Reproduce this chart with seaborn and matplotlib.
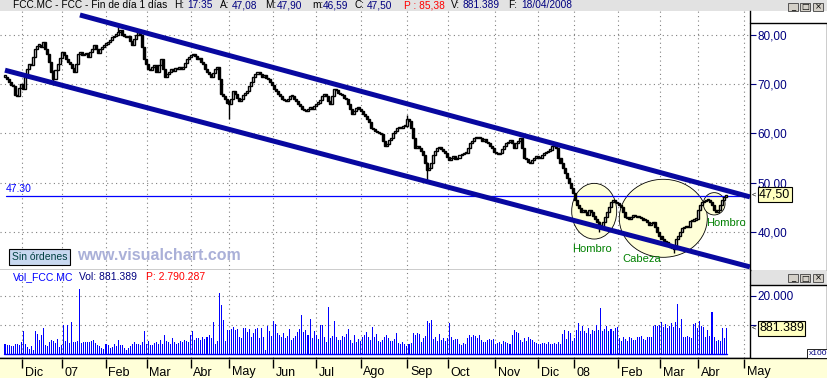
import matplotlib
matplotlib.use("Agg")
import matplotlib.pyplot as plt
from matplotlib.patches import Ellipse, Rectangle
from matplotlib.lines import Line2D
import numpy as np
import pandas as pd
import seaborn as sns

# ---------------- data ----------------
close = [
71.5, 71.0, 70.5, 69.8, 69.5, 67.8, 67.5, 69.2, 70.0, 69.0,
71.5, 73.0, 74.0, 73.8, 75.5, 77.0, 77.8, 78.0, 77.5, 78.5,
77.2, 76.0, 74.5, 72.5, 71.0, 72.8, 74.0, 75.2, 76.5, 75.8,
75.0, 74.5, 74.0, 73.2, 72.5, 74.0, 76.0, 76.5, 75.8, 76.0,
76.3, 75.5, 76.5, 77.2, 78.0, 77.0, 76.3, 77.0, 77.5, 78.0,
78.2, 78.6, 79.0, 79.5, 79.8, 80.0, 80.5, 81.0, 80.0, 79.8,
79.5, 79.8, 78.8, 78.0, 79.2, 80.0, 80.5, 80.0, 77.5, 75.0,
74.0, 73.0, 72.8, 73.5, 73.8, 72.5, 73.8, 75.0, 73.0, 71.5,
72.0, 72.5, 73.0, 72.6, 73.2, 73.0, 73.5, 73.0, 73.5, 74.2,
75.0, 75.5, 75.8, 76.0, 75.6, 75.0, 75.2, 74.5, 74.0, 73.0,
72.5, 72.0, 71.5, 72.2, 73.0, 73.5, 71.0, 68.0, 67.5, 67.0,
66.2, 66.0, 67.0, 68.5, 68.0, 67.2, 66.5, 67.0, 67.8, 68.2,
68.5, 69.5, 70.5, 71.5, 72.0, 72.5, 72.0, 71.5, 71.8, 71.2,
71.0, 70.5, 69.8, 69.0, 68.5, 68.0, 67.5, 67.0, 66.8, 66.5,
67.0, 67.5, 67.5, 67.0, 66.5, 66.0, 65.5, 65.0, 64.7, 64.5,
65.0, 65.2, 65.0, 65.5, 66.0, 66.2, 66.7, 67.5, 68.0, 67.5,
66.5, 66.0, 67.5, 69.0, 68.8, 68.2, 68.0, 67.8, 67.2, 67.0,
66.0, 65.0, 64.0, 64.5, 65.2, 65.0, 64.5, 64.0, 63.5, 63.0,
62.2, 61.0, 60.8, 60.5, 60.2, 60.0, 59.8, 58.5, 57.5, 57.8,
58.6, 59.0, 60.0, 60.5, 61.0, 61.3, 61.0, 61.5, 61.5, 63.0,
62.5, 61.0, 59.0, 57.0, 57.5, 57.0, 56.5, 55.5, 54.0, 52.5,
53.0, 54.0, 55.5, 56.5, 57.0, 57.2, 56.8, 56.5, 56.0, 55.2,
54.6, 55.0, 55.3, 54.8, 55.0, 55.5, 55.8, 56.0, 56.0, 57.0,
58.0, 58.5, 59.0, 59.3, 59.0, 59.0, 58.5, 58.8, 58.2, 58.0,
57.5, 57.0, 56.2, 56.0, 55.8, 56.0, 56.8, 57.5, 58.0, 58.3,
58.6, 58.0, 57.0, 58.0, 58.5, 59.0, 57.0, 55.0, 54.8, 54.2,
54.0, 54.5, 55.0, 55.3, 55.0, 55.0, 55.5, 56.0, 56.2, 56.5,
56.7, 57.5, 58.0, 57.0, 55.0, 54.0, 53.0, 52.0, 51.0, 50.0,
49.0, 47.8, 46.5, 45.5, 44.8, 44.0, 44.5, 44.0, 43.5, 44.5,
44.0, 43.2, 42.7, 42.0, 41.5, 41.0, 42.0, 43.0, 44.0, 45.0,
46.0, 46.4, 46.0, 45.8, 45.5, 45.0, 44.0, 43.0, 42.8, 42.7,
43.0, 43.5, 43.2, 43.0, 43.0, 42.8, 42.5, 42.4, 42.0, 41.5,
41.8, 42.0, 41.0, 40.0, 39.2, 38.5, 38.2, 38.0, 37.5, 37.0,
36.8, 36.5, 38.5, 39.2, 40.0, 40.8, 41.0, 41.2, 41.0, 42.2,
42.3, 42.5, 42.6, 44.4, 45.5, 46.0, 46.2, 46.5, 46.5, 46.0,
45.5, 44.5, 44.0, 44.5, 45.5, 46.4, 47.1, 47.5]

# daily volume, in units of 100 shares
volume = [
3500, 3000, 3200, 2800, 2600, 3600, 3300, 3000, 4000, 8000,
3500, 2500, 1800, 2800, 1500, 7800, 7000, 5000, 6500, 9000,
3000, 2600, 4200, 4800, 4500, 3800, 5200, 2400, 3200, 10100,
4500, 10100, 3800, 11000, 4000, 4200, 4500, 22500, 3800, 4200,
4000, 4200, 4200, 4500, 4800, 3800, 3000, 2800, 2200, 1600,
3400, 3200, 2000, 2400, 3500, 2800, 5000, 3000, 3000, 2000,
1500, 2000, 2600, 3300, 4000, 3300, 3500, 3000, 4300, 8000,
3600, 4600, 3200, 3000, 3800, 4300, 3400, 4800, 3500, 6700,
4500, 4000, 3300, 5500, 4000, 3500, 3800, 4500, 4200, 4700,
4500, 4000, 6700, 8000, 5000, 5600, 5500, 5000, 6000, 5200,
6000, 6400, 5500, 11000, 3500, 4400, 21000, 17000, 11800, 4400,
8200, 8300, 8600, 9200, 8200, 8600, 5800, 5500, 9000, 9000,
7600, 8600, 5800, 7400, 8600, 8800, 5500, 8800, 6000, 1500,
9700, 7800, 6200, 11300, 10500, 7300, 6700, 5800, 7300, 5400,
6300, 8600, 4900, 5600, 6300, 7500, 8700, 13500, 7700, 8400,
6400, 12000, 5500, 8000, 6700, 5200, 9900, 10100, 5800, 4200,
16200, 5500, 6200, 11300, 5800, 5000, 4800, 6200, 5900, 6900,
8600, 5000, 3800, 6700, 4200, 5100, 4400, 5800, 6400, 7500,
5800, 5000, 9300, 5800, 6900, 4400, 4100, 4900, 5700, 6500,
5500, 4400, 4600, 5200, 7400, 3900, 3300, 4200, 3500, 2600,
3300, 3900, 7200, 6400, 7200, 7000, 4300, 5400, 6300, 11300,
10800, 11800, 5200, 6000, 4600, 7000, 4800, 5500, 4600, 5400,
10700, 5800, 5000, 5200, 5200, 3300, 3100, 3800, 3300, 5600,
6600, 5800, 6700, 6100, 5500, 6400, 4800, 4100, 4300, 5000,
5200, 4900, 5100, 3400, 3900, 4200, 3300, 4400, 4000, 3800,
3500, 6700, 8200, 7500, 7200, 4800, 4000, 5600, 4400, 6000,
5300, 5000, 4300, 3800, 3600, 3300, 3900, 3700, 3300, 4000,
3500, 3400, 3800, 3300, 4200, 3600, 7000, 8200, 5300, 7800,
7300, 4400, 5600, 8300, 10700, 7900, 9500, 7900, 7400, 9000,
6800, 8200, 7800, 9900, 8300, 15900, 7800, 8700, 9600, 7900,
8600, 7800, 8800, 9200, 5500, 4400, 5800, 5100, 4600, 5800,
5400, 5000, 4900, 5700, 5900, 6100, 5300, 5000, 5800, 6000,
5800, 9700, 10000, 9600, 9900, 11200, 9300, 10300, 8900, 9500,
10700, 9400, 11000, 17400, 9000, 12000, 6000, 6000, 6300, 6000,
5600, 10400, 10800, 9100, 11300, 9800, 9400, 6000, 8400, 6200,
14400, 5700, 4600, 5000, 4400, 9000, 5400, 8814]

month_labels = ["Dic", "07", "Feb", "Mar", "Abr", "May", "Jun", "Jul", "Ago",
                "Sep", "Oct", "Nov", "Dic", "08", "Feb", "Mar", "Abr", "May"]
month_pos = [8.6, 28.1, 49.9, 70.2, 92.0, 111.0, 132.8, 154.0, 176.1,
             199.2, 219.2, 242.6, 264.0, 281.7, 303.6, 324.3, 343.2, 365.8]

spike_idx = [24, 56, 111, 199, 209, 294, 331]
spike_low = [69.8, 80.3, 63.0, 61.2, 50.5, 40.0, 35.8]
spike_high = [72.8, 81.6, 66.8, 63.8, 54.2, 42.3, 37.2]

price_ticks = [40, 50, 60, 70, 80]
vol_ticks = [10000, 20000]
vol_tick_labels = ["", "20.000"]

upper_channel_x = [37.1, 368.8]
upper_channel_y = [84.0, 47.1]
lower_channel_x = [0.0, 368.8]
lower_channel_y = [72.8, 32.9]

ref_level = 47.30
last_close = 47.50
last_volume = 881389
total_volume = "2.790.287"
hdr_H, hdr_A, hdr_M, hdr_m, hdr_C = "17:35", "47,08", "47,90", "46,59", "47,50"
hdr_P, hdr_V, hdr_F = "85,38", "881.389", "18/04/2008"

# ---------------- styling ----------------
W, H = 828, 378
sns.set_style("white")
plt.rcParams['font.family'] = ['Liberation Sans', 'DejaVu Sans']

NAVY = '#000080'
CHAN = '#0808A0'
GRID = dict(color='#808080', linestyle=(0, (1, 3)), linewidth=0.8)

fig = plt.figure(figsize=(W / 100, H / 100), dpi=100, facecolor='#E2E2E2')


def fx(x):
    return x / W


def fy(y):
    return 1 - y / H


def px2i(x):
    return (x - 5) / 2.02


def py2p(y):
    return 80 - (y - 34.7) / 4.93


def py2v(y):
    return (354 - y) * 20000 / 58


# white backgrounds of right-hand scale boxes
fig.add_artist(Rectangle((fx(750), fy(270)), fx(78), (270 - 11) / H,
                         transform=fig.transFigure, fc='white', ec='none', zorder=-5))
fig.add_artist(Rectangle((fx(750), fy(358)), fx(78), (358 - 285) / H,
                         transform=fig.transFigure, fc='white', ec='none', zorder=-5))

ax_p = fig.add_axes([0, fy(270), fx(750), (270 - 11) / H])
ax_v = fig.add_axes([0, fy(358), fx(750), (358 - 270) / H])
ax_b = fig.add_axes([0, 0, 1, fy(358)])

xlim = (px2i(0), px2i(750))

# ---------------- price panel ----------------
idx = np.arange(len(close))
c = np.array(close)
o = np.r_[c[0], c[:-1]]
bottom = np.minimum(o, c)
height = np.maximum(np.abs(c - o), 0.25)
faces = np.where(c >= o, 'white', 'black')

for (cx, cy, w, h) in [(594.2, 211.2, 45, 55.7), (663.3, 218.3, 88, 78), (714.2, 203.8, 21.7, 22.3)]:
    ax_p.add_patch(Ellipse((px2i(cx), py2p(cy)), w / 2.02, h / 4.93,
                           fc='#FFFFD8', ec='black', lw=0.6, zorder=2))

ax_p.axhline(ref_level, xmin=6 / 750, xmax=1, color='#0000FF', lw=0.9, zorder=3)
ax_p.annotate(f"{ref_level:.2f}", xy=(6 / 750, ref_level),
              xycoords=ax_p.get_yaxis_transform(), xytext=(0, 1.5),
              textcoords='offset points', color='#0000FF', fontsize=7.5,
              ha='left', va='bottom')

ax_p.vlines(spike_idx, spike_low, spike_high, color='black', lw=1.0, zorder=4)
ax_p.bar(idx, height, bottom=bottom, width=1.0, color=faces, edgecolor='black',
         linewidth=1.0, zorder=5)

sns.lineplot(x=upper_channel_x, y=upper_channel_y, ax=ax_p, color=CHAN,
             linewidth=3.6, zorder=6, solid_capstyle='butt')
sns.lineplot(x=lower_channel_x, y=lower_channel_y, ax=ax_p, color=CHAN,
             linewidth=3.6, zorder=6, solid_capstyle='butt')

for (tx, ty, s) in [(592.5, 248.5, 'Hombro'), (641.5, 259.5, 'Cabeza'), (726.5, 223.5, 'Hombro')]:
    ax_p.text(px2i(tx), py2p(ty), s, color='#008000', fontsize=8, ha='center',
              va='center', zorder=7)

ax_p.set_xlim(*xlim)
ax_p.set_ylim(py2p(270), py2p(11))
ax_p.set_xticks(month_pos)
ax_p.tick_params(axis='x', length=0, labelbottom=False)
ax_p.yaxis.tick_right()
ax_p.set_yticks(price_ticks, [f"{t},00" for t in price_ticks])
ax_p.tick_params(axis='y', direction='out', length=4, width=0.8, color=NAVY,
                 labelcolor=NAVY, labelsize=8.5, pad=1.5)
ax_p.grid(True, **GRID)
ax_p.set_axisbelow(True)
ax_p.set_facecolor('white')
for s in ('left', 'top'):
    ax_p.spines[s].set_visible(False)
for s in ('right', 'bottom'):
    ax_p.spines[s].set_color('black')
    ax_p.spines[s].set_linewidth(1)
ax_p.set_xlabel('')
ax_p.set_ylabel('')

ax_p.annotate(f"{last_close:.2f}".replace('.', ','), xy=(1, last_close),
              xycoords=ax_p.get_yaxis_transform(), xytext=(6.5, 0),
              textcoords='offset points', fontsize=9, ha='left', va='center',
              color='black', zorder=20, annotation_clip=False,
              bbox=dict(boxstyle='square,pad=0.12', fc='#FFFFC0', ec='black', lw=0.8))
ax_p.annotate("<", xy=(1, last_close), xycoords=ax_p.get_yaxis_transform(),
              xytext=(1.2, 0), textcoords='offset points', fontsize=5.5,
              ha='left', va='center', color='black', annotation_clip=False)

# ---------------- volume panel ----------------
df = pd.DataFrame({'i': idx, 'v': volume})
sns.barplot(data=df, x='i', y='v', native_scale=True, color='#0000FF',
            saturation=1, width=0.5, linewidth=0, errorbar=None, ax=ax_v)
for p in ax_v.patches:
    p.set_antialiased(False)
ax_v.plot([idx[0] - 0.5, idx[-1] + 0.5], [0, 0], color='#0000FF', lw=1)

ax_v.set_xlim(*xlim)
ax_v.set_ylim(py2v(358), py2v(270))
ax_v.set_xticks(month_pos)
ax_v.tick_params(axis='x', length=0, labelbottom=False)
ax_v.yaxis.tick_right()
ax_v.set_yticks(vol_ticks, vol_tick_labels)
ax_v.tick_params(axis='y', direction='out', length=4, width=0.8, color=NAVY,
                 labelcolor=NAVY, labelsize=8.5, pad=1.5)
ax_v.grid(True, **GRID)
ax_v.set_axisbelow(True)
ax_v.set_facecolor('white')
ax_v.set_xlabel('')
ax_v.set_ylabel('')
for s in ('left', 'top'):
    ax_v.spines[s].set_visible(False)
for s in ('right', 'bottom'):
    ax_v.spines[s].set_color('black')
    ax_v.spines[s].set_linewidth(1)

ax_v.annotate(f"{last_volume:,}".replace(',', '.'), xy=(1, last_volume / 100),
              xycoords=ax_v.get_yaxis_transform(), xytext=(6.5, 0),
              textcoords='offset points', fontsize=9, ha='left', va='center',
              color='black', zorder=20, annotation_clip=False,
              bbox=dict(boxstyle='square,pad=0.12', fc='#FFFFC0', ec='black', lw=0.8))
ax_v.annotate("<", xy=(1, last_volume / 100), xycoords=ax_v.get_yaxis_transform(),
              xytext=(1.2, 0), textcoords='offset points', fontsize=5.5,
              ha='left', va='center', color='black', annotation_clip=False)

# ---------------- bottom date band ----------------
ax_b.set_facecolor('#FFFFD8')
ax_b.set_xlim(px2i(0), px2i(828))
ax_b.set_ylim(20, 0)
ax_b.set_xticks([])
ax_b.set_yticks([])
for s in ('left', 'right', 'bottom'):
    ax_b.spines[s].set_visible(False)
ax_b.spines['top'].set_color('black')
ax_b.spines['top'].set_linewidth(1)
ax_b.vlines(month_pos, 0.5, 10, color='black', lw=1)
for pos, lab in zip(month_pos, month_labels):
    ax_b.text(pos + 1.3, 14.5, lab, fontsize=9, ha='left', va='center',
              color='black', clip_on=False)

# ---------------- frame lines of the right scale boxes ----------------
for (xa, ya, xb, yb) in [(750, 23, 827.5, 23), (827.5, 23, 827.5, 270),
                         (750, 285, 827.5, 285), (827.5, 285, 827.5, 358)]:
    fig.add_artist(Line2D([fx(xa), fx(xb)], [fy(ya), fy(yb)], color='black',
                          lw=1, transform=fig.transFigure))

# x100 marker
fig.text(fx(818), fy(353.5), "x100", fontsize=6, color=NAVY, ha='center',
         va='center', bbox=dict(boxstyle='square,pad=0.15', fc='white', ec='black', lw=0.6))

# ---------------- header texts ----------------
segments = [
    (13, "FCC.MC - FCC - Fin de día 1 días", 'black'),
    (174, "H:", 'black'), (187, hdr_H, NAVY),
    (220, "A:", 'black'), (232, hdr_A, NAVY),
    (265, "M:", 'black'), (277, hdr_M, NAVY),
    (312, "m:", 'black'), (323, hdr_m, NAVY),
    (355, "C:", 'black'), (367, hdr_C, NAVY),
    (404, "P : " + hdr_P, '#FF0000'),
    (451, "V:", 'black'), (463, hdr_V, NAVY),
    (508, "F:", 'black'), (521, hdr_F, NAVY),
]
for x, s, col in segments:
    fig.text(fx(x), fy(5.5), s, fontsize=7.3, color=col, ha='left', va='center')

for x, s, col in [(13, "Vol_FCC.MC", '#0000FF'), (79, "Vol: " + hdr_V, NAVY),
                  (146, "P: " + total_volume, '#FF0000')]:
    fig.text(fx(x), fy(277), s, fontsize=7.5, color=col, ha='left', va='center')

# window buttons
for ytop in (3, 274):
    for bx, sym in [(788, '_'), (800, '□'), (813, '×')]:
        fig.add_artist(Rectangle((fx(bx), fy(ytop + 8)), fx(10), 8 / H,
                                 transform=fig.transFigure, fc='#D4D0C8',
                                 ec='#404040', lw=0.6))
        fig.text(fx(bx + 5), fy(ytop + 4), sym, fontsize=6, ha='center',
                 va='center', color='black', family=['DejaVu Sans'])

# ---------------- overlays ----------------
fig.text(fx(12), fy(257), "Sin órdenes", fontsize=7.5, color='#004040',
         ha='left', va='center',
         bbox=dict(boxstyle='square,pad=0.25', fc='#C8D8F0', ec='black', lw=0.8))
fig.text(fx(77), fy(256), "www.visualchart.com", fontsize=11.5, fontweight='bold',
         color='#AAB0D8', ha='left', va='center')

fig.savefig("out.png", dpi=100, facecolor=fig.get_facecolor())
